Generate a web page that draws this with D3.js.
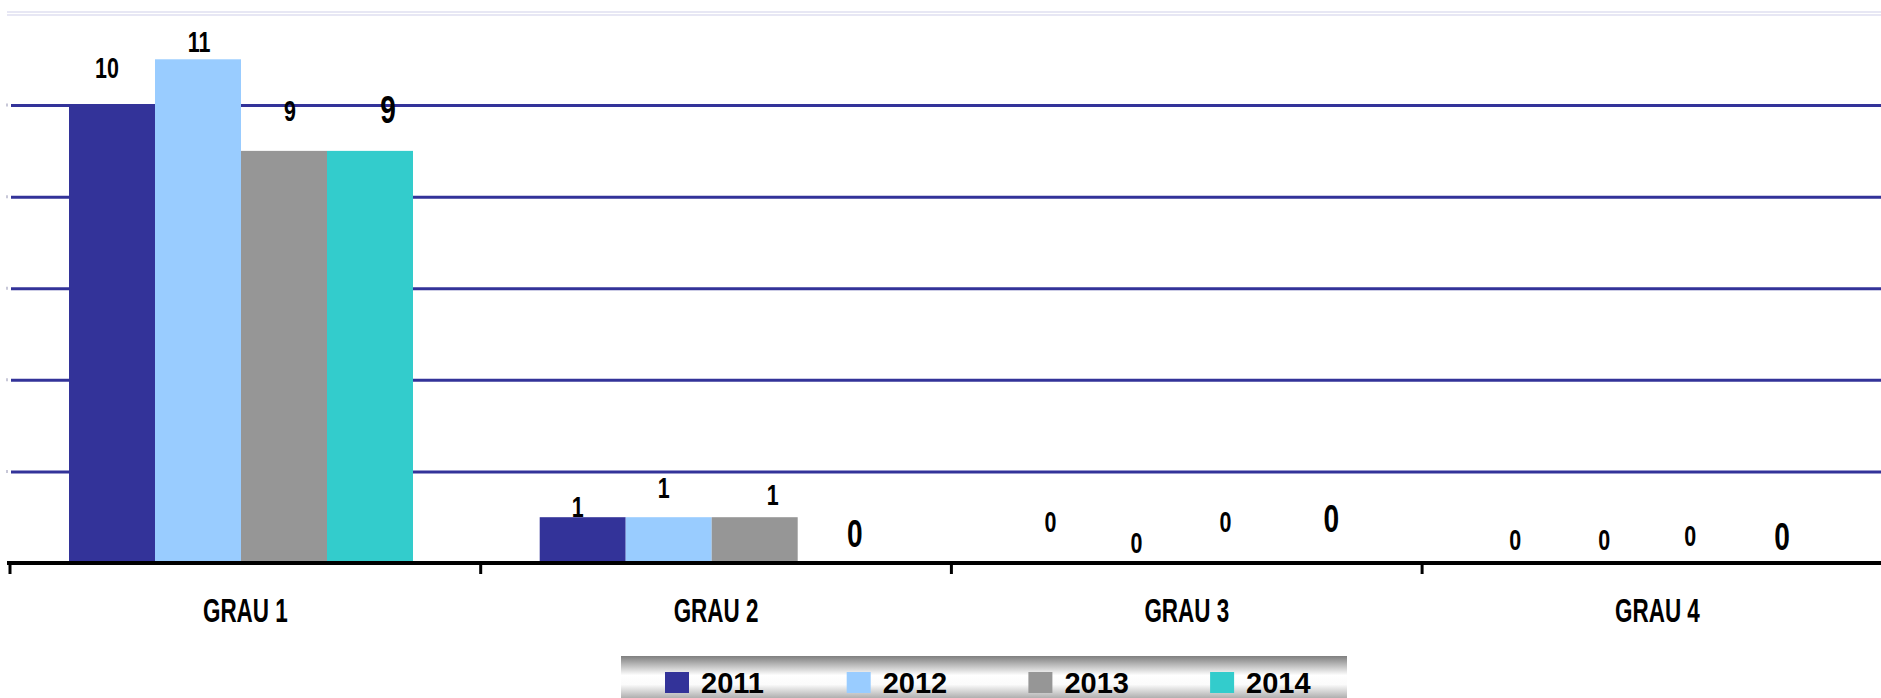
<!DOCTYPE html>
<html>
<head>
<meta charset="utf-8">
<script src="https://cdn.jsdelivr.net/npm/d3@7"></script>
<style>
  html, body { margin: 0; padding: 0; background: #fff; }
  svg { display: block; }
  .cond { font-family: "Liberation Sans", Arial, sans-serif; font-weight: bold; }
  .legText { font-family: "Liberation Sans", Arial, sans-serif; font-weight: bold; }
</style>
</head>
<body>
<div id="chart"></div>
<script>
// chart values
var categories = ["GRAU 1", "GRAU 2", "GRAU 3", "GRAU 4"];
var years = ["2011", "2012", "2013", "2014"];
var values2011 = [10, 1, 0, 0];
var values2012 = [11, 1, 0, 0];
var values2013 = [9, 1, 0, 0];
var values2014 = [9, 0, 0, 0];
var gridValues = [2, 4, 6, 8, 10];
var yMax = 12;

var colors = ["#333399", "#99ccff", "#969696", "#33cccc"];

// hand placement of the value labels (pixels), as in the original
var labelDx = [[-5, -5, -3, -9], [1, -5, -3, -6], [6, 18, 0, -6], [18, 14, 20, 0]];
var labelLift = [[27, 0, 31, 13], [7, 19, 10, 13], [30, 12, 31, 17], [28, 16, 31, 13]];

var svgWidth = 1881;
var svgHeight = 698;

var series = [values2011, values2012, values2013, values2014];

var svg = d3.select("#chart")
    .append("svg")
    .attr("width", svgWidth)
    .attr("height", svgHeight);

var defs = svg.append("defs");
var grad = defs.append("linearGradient")
    .attr("id", "legendGrad")
    .attr("x1", 0).attr("y1", 0).attr("x2", 0).attr("y2", 1);
grad.append("stop").attr("offset", "0%").attr("stop-color", "#7f7f7f");
grad.append("stop").attr("offset", "42%").attr("stop-color", "#ffffff");
grad.append("stop").attr("offset", "62%").attr("stop-color", "#fbfbfb");
grad.append("stop").attr("offset", "100%").attr("stop-color", "#999999");

// scales
var plotLeft = 10, plotTop = 13.5, plotBottom = 563;
var stepX = 470.7;

var x0 = d3.scaleBand()
    .domain(categories)
    .range([plotLeft, plotLeft + stepX * categories.length]);

var x1 = d3.scaleBand()
    .domain(years)
    .range([59, 59 + 86 * years.length]);

var y = d3.scaleLinear()
    .domain([0, yMax])
    .range([plotBottom, plotTop]);

// top border of plot area
[-1.5, 1.5].forEach(function(off) {
    svg.append("line")
        .attr("x1", 7).attr("x2", svgWidth)
        .attr("y1", y(yMax) + off).attr("y2", y(yMax) + off)
        .attr("stroke", "#d0d0ea")
        .attr("stroke-width", 1.2);
});

// gridlines
var grid = svg.append("g")
    .attr("transform", `translate(${plotLeft + 1}, 0)`)
    .call(d3.axisLeft(y).tickValues(gridValues).tickSize(-(svgWidth - plotLeft)).tickFormat(""));
grid.select(".domain").remove();
grid.selectAll("line")
    .attr("stroke", "#333399")
    .attr("stroke-width", 3);
// faint left ticks
svg.selectAll(".ytick")
    .data(gridValues)
    .enter()
    .append("line")
    .attr("x1", 6).attr("x2", 8)
    .attr("y1", d => y(d)).attr("y2", d => y(d))
    .attr("stroke", "#c8c8d8")
    .attr("stroke-width", 3);

// bars
var groups = svg.selectAll(".cat")
    .data(categories)
    .enter()
    .append("g")
    .attr("transform", d => `translate(${x0(d)}, 0)`);

groups.selectAll("rect")
    .data((c, ci) => years.map((yr, si) => ({ year: yr, si: si, ci: ci, value: series[si][ci] })))
    .enter()
    .append("rect")
    .attr("x", d => x1(d.year))
    .attr("width", x1.bandwidth())
    .attr("y", d => y(d.value))
    .attr("height", d => y(0) - y(d.value))
    .attr("fill", d => colors[d.si]);

// x axis
var xAxis = svg.append("g")
    .attr("transform", `translate(0, ${plotBottom})`)
    .call(d3.axisBottom(x0).tickSizeInner(0).tickSizeOuter(0));
xAxis.select(".domain")
    .attr("d", `M7,0H${svgWidth}`)
    .attr("stroke", "#000")
    .attr("stroke-width", 4);
xAxis.selectAll(".tick text")
    .attr("class", "cond")
    .attr("y", 0)
    .attr("dy", 0)
    .attr("transform", "translate(0,59) scale(0.68,1)")
    .attr("font-size", 33)
    .attr("fill", "#000");
xAxis.selectAll(".sep")
    .data(categories)
    .enter()
    .append("line")
    .attr("x1", d => x0(d)).attr("x2", d => x0(d))
    .attr("y1", 0).attr("y2", 11)
    .attr("stroke", "#000")
    .attr("stroke-width", 3);

// value labels
groups.selectAll(".val")
    .data((c, ci) => years.map((yr, si) => ({ year: yr, si: si, ci: ci, value: series[si][ci] })))
    .enter()
    .append("text")
    .attr("class", "cond")
    .attr("transform", d => `translate(${x1(d.year) + x1.bandwidth() / 2 + labelDx[d.si][d.ci]}, ${y(d.value) - labelLift[d.si][d.ci]}) scale(0.74,1)`)
    .attr("text-anchor", "middle")
    .attr("font-size", d => d.si === 3 ? 38 : 29)
    .attr("fill", "#000")
    .text(d => d.value);

// legend
var legX = d3.scaleBand()
    .domain(years)
    .range([665, 665 + 181.7 * years.length]);

svg.append("rect")
    .attr("x", 621)
    .attr("y", 656)
    .attr("width", 726)
    .attr("height", 46)
    .attr("fill", "url(#legendGrad)");

var legItems = svg.selectAll(".leg")
    .data(years)
    .enter()
    .append("g")
    .attr("transform", d => `translate(${legX(d)}, 672)`);
legItems.append("rect")
    .attr("width", 24)
    .attr("height", 21)
    .attr("fill", (d, i) => colors[i]);
legItems.append("text")
    .attr("class", "legText")
    .attr("x", 36)
    .attr("y", 21)
    .attr("font-size", 29)
    .attr("fill", "#000")
    .text(d => d);
</script>
</body>
</html>
